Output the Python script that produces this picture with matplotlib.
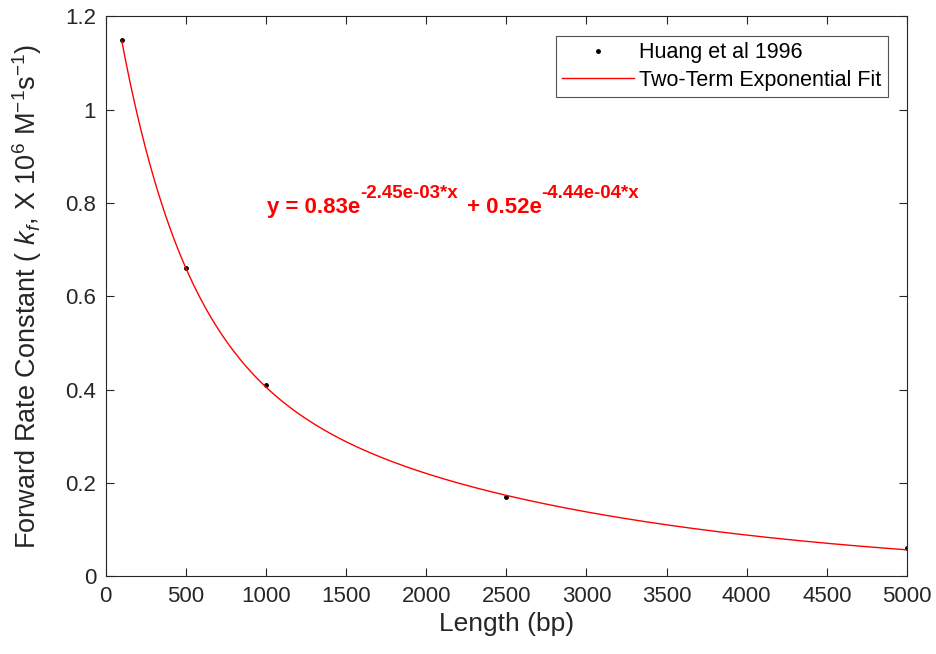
import numpy as np
import matplotlib
matplotlib.use('Agg')
import matplotlib.pyplot as plt
from matplotlib.transforms import offset_copy

# Measured data (Huang et al 1996)
length_bp = [100, 500, 1000, 2500, 5000]
rate_kf = [1.15, 0.66, 0.41, 0.17, 0.06]

# Two-term exponential fit coefficients, as printed on the chart
fit_a = 0.83
fit_b = -2.45e-03
fit_c = 0.52
fit_d = -4.44e-04

x_ticks = [0, 500, 1000, 1500, 2000, 2500, 3000, 3500, 4000, 4500, 5000]
y_ticks = [0, 0.2, 0.4, 0.6, 0.8, 1.0, 1.2]
y_tick_labels = ['0', '0.2', '0.4', '0.6', '0.8', '1', '1.2']

# equation text pieces: (text, is_exponent)
eq_parts = [('y = 0.83e', False), ('-2.45e-03*x', True),
            (' + 0.52e', False), ('-4.44e-04*x', True)]

plt.rcParams['font.family'] = ['Liberation Sans', 'DejaVu Sans']
plt.rcParams['mathtext.fontset'] = 'custom'
plt.rcParams['mathtext.rm'] = 'Liberation Sans'
plt.rcParams['mathtext.it'] = 'Liberation Sans:italic'
plt.rcParams['mathtext.bf'] = 'Liberation Sans:bold'

fig = plt.figure(figsize=(9.36, 6.54), dpi=100)
ax = fig.add_axes([0.113, 0.119, 0.856, 0.856])

# fitted curve drawn from the fit model
x_fit = np.linspace(min(length_bp), max(length_bp), 400)
y_fit = fit_a * np.exp(fit_b * x_fit) + fit_c * np.exp(fit_d * x_fit)

ax.plot(length_bp, rate_kf, 'k.', markersize=5, label='Huang et al 1996')
ax.plot(x_fit, y_fit, color='#ff0000', linewidth=1.0, label='Two-Term Exponential Fit')

ax.set_xlim(0, 5000)
ax.set_ylim(0, 1.2)
ax.set_xticks(x_ticks)
ax.set_yticks(y_ticks)
ax.set_yticklabels(y_tick_labels)
ax.tick_params(direction='in', top=True, right=True, length=6, width=0.8,
               labelsize=16, colors='#262626', pad=7)
for s in ax.spines.values():
    s.set_color('#262626')
    s.set_linewidth(0.8)

ax.set_xlabel('Length (bp)', fontsize=19, color='#262626', labelpad=4)
ax.set_ylabel(r'Forward Rate Constant ( $k_f$, X 10$^6$ M$^{-1}$s$^{-1}$)',
              fontsize=19.5, color='#262626', labelpad=15)

# equation laid out piece by piece so exponents keep plain hyphens
renderer = fig.canvas.get_renderer()
dx = 0.0
for txt, is_exp in eq_parts:
    size = 13.5 if is_exp else 16
    rise = 15 if is_exp else 0
    tr = offset_copy(ax.transData, fig=fig, x=dx, y=rise, units='dots')
    t = ax.text(1005, 0.778, txt, transform=tr, color='#ff0000', fontsize=size,
                fontweight='bold', ha='left', va='baseline')
    dx += t.get_window_extent(renderer).width + (3 if is_exp else 0)

leg = ax.legend(loc='upper right', fontsize=15.5, frameon=True, fancybox=False,
                edgecolor='#262626', borderaxespad=0.9, handlelength=3.3,
                handletextpad=0.25, borderpad=0.3, labelspacing=0.3)
leg.get_frame().set_linewidth(0.8)

fig.savefig('out.png', dpi=100)
